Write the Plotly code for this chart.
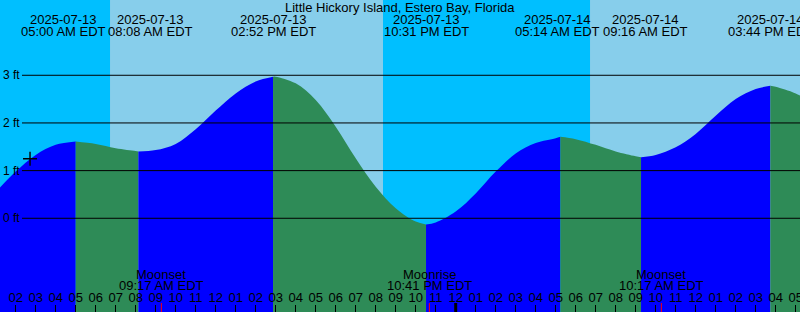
import plotly.graph_objects as go
from datetime import datetime

# ---------------- data ----------------
tide_times = [
    "2025-07-13 01:00", "2025-07-13 02:00", "2025-07-13 03:00", "2025-07-13 04:00",
    "2025-07-13 05:00", "2025-07-13 06:00", "2025-07-13 07:00", "2025-07-13 08:00",
    "2025-07-13 08:08", "2025-07-13 09:00", "2025-07-13 10:00", "2025-07-13 11:00",
    "2025-07-13 12:00", "2025-07-13 13:00", "2025-07-13 14:00", "2025-07-13 14:52",
    "2025-07-13 15:00", "2025-07-13 16:00", "2025-07-13 17:00", "2025-07-13 18:00",
    "2025-07-13 19:00", "2025-07-13 20:00", "2025-07-13 21:00", "2025-07-13 22:00",
    "2025-07-13 22:31", "2025-07-13 23:00", "2025-07-14 00:00", "2025-07-14 01:00",
    "2025-07-14 02:00", "2025-07-14 03:00", "2025-07-14 04:00", "2025-07-14 05:00",
    "2025-07-14 05:14", "2025-07-14 06:00", "2025-07-14 07:00", "2025-07-14 08:00",
    "2025-07-14 09:00", "2025-07-14 09:16", "2025-07-14 10:00", "2025-07-14 11:00",
    "2025-07-14 12:00", "2025-07-14 13:00", "2025-07-14 14:00", "2025-07-14 15:00",
    "2025-07-14 15:44", "2025-07-14 16:00", "2025-07-14 17:00", "2025-07-14 18:00",
]
tide_heights = [
    0.55, 0.98, 1.33, 1.54,
    1.61, 1.56, 1.47, 1.41,
    1.40, 1.43, 1.56, 1.87,
    2.26, 2.62, 2.87, 2.97,
    2.97, 2.83, 2.48, 1.92,
    1.26, 0.66, 0.21, -0.07,
    -0.13, -0.09, 0.14, 0.52,
    0.98, 1.36, 1.58, 1.68,
    1.71, 1.66, 1.54, 1.40,
    1.30, 1.28, 1.33, 1.49,
    1.77, 2.15, 2.50, 2.71,
    2.78, 2.76, 2.62, 2.40,
]

extreme_times = ["2025-07-13 05:00", "2025-07-13 08:08", "2025-07-13 14:52", "2025-07-13 22:31",
                 "2025-07-14 05:14", "2025-07-14 09:16", "2025-07-14 15:44"]
extreme_dates = ["2025-07-13", "2025-07-13", "2025-07-13", "2025-07-13",
                 "2025-07-14", "2025-07-14", "2025-07-14"]
extreme_labels = ["05:00 AM EDT", "08:08 AM EDT", "02:52 PM EDT", "10:31 PM EDT",
                  "05:14 AM EDT", "09:16 AM EDT", "03:44 PM EDT"]

sun_times = ["2025-07-13 06:43", "2025-07-13 20:22", "2025-07-14 06:43"]  # rise, set, rise

moon_times = ["2025-07-13 09:17", "2025-07-13 22:41", "2025-07-14 10:17"]
moon_events = ["Moonset", "Moonrise", "Moonset"]
moon_labels = ["09:17 AM EDT", "10:41 PM EDT", "10:17 AM EDT"]

midnight = "2025-07-14 00:00"
now_time = "2025-07-13 02:43"
now_height = 1.25

grid_levels = [0, 1, 2, 3]
grid_labels = ["0 ft", "1 ft", "2 ft", "3 ft"]

title = "Little Hickory Island, Estero Bay, Florida"

# ---------------- styling ----------------
NIGHT = "#00BFFF"
DAY = "#87CEEB"
RISE = "#0000FF"
FALL = "#2E8B57"
FONT = "Liberation Sans"
W, H = 800, 312
X_RANGE = ["2025-07-13 01:12:54", "2025-07-14 17:12:54"]
Y_MIN, Y_MAX = -1.966, 4.579


def dt(s):
    return datetime.strptime(s, "%Y-%m-%d %H:%M")


fig = go.Figure()

# water fill, one segment per rising / falling interval
bounds = [tide_times[0]] + extreme_times + [tide_times[-1]]
for a, b in zip(bounds[:-1], bounds[1:]):
    seg = [(t, h) for t, h in zip(tide_times, tide_heights) if dt(a) <= dt(t) <= dt(b)]
    xs = [p[0] for p in seg]
    ys = [p[1] for p in seg]
    color = RISE if ys[-1] > ys[0] else FALL
    fig.add_trace(go.Scatter(x=[xs[0], xs[-1]], y=[Y_MIN, Y_MIN], mode="lines",
                             line=dict(width=0), hoverinfo="skip", showlegend=False))
    fig.add_trace(go.Scatter(x=xs, y=ys, mode="lines", line=dict(width=0, shape="spline", smoothing=1.0),
                             fill="tonexty", fillcolor=color, hoverinfo="skip", showlegend=False))

# current time marker
fig.add_trace(go.Scatter(x=[now_time], y=[now_height], mode="markers",
                         marker=dict(symbol="cross-thin", size=10, line=dict(width=1.4, color="black")),
                         hoverinfo="skip", showlegend=False))

shapes = []
# day / night background
edges = [X_RANGE[0]] + sun_times + [X_RANGE[1]]
for i, (a, b) in enumerate(zip(edges[:-1], edges[1:])):
    shapes.append(dict(type="rect", xref="x", yref="paper", x0=a, x1=b, y0=0, y1=1,
                       fillcolor=NIGHT if i % 2 == 0 else DAY, line=dict(width=0), layer="below"))
# grid lines
for g in grid_levels:
    shapes.append(dict(type="line", xref="paper", yref="y", x0=22 / W, x1=1, y0=g, y1=g,
                       line=dict(color="black", width=1), layer="above"))
# midnight tick
shapes.append(dict(type="line", xref="x", yref="paper", x0=midnight, x1=midnight, y0=0, y1=9 / H,
                   line=dict(color="black", width=3), layer="above"))
# moon ticks
for t in moon_times:
    shapes.append(dict(type="line", xref="x", yref="paper", x0=t, x1=t, y0=0, y1=9 / H,
                       line=dict(color="red", width=1), layer="above"))

annotations = []
font = dict(family=FONT, size=13, color="black")
annotations.append(dict(text=title, xref="paper", yref="paper", x=0.5, y=1 - 7.5 / H,
                        showarrow=False, font=font, xanchor="center", yanchor="middle"))
shifts = [-12.5, 12.5, 0, 0, -2.5, 4, 0]
for t, d, lab, s in zip(extreme_times, extreme_dates, extreme_labels, shifts):
    annotations.append(dict(text=d, xref="x", yref="paper", x=t, y=1 - 19.5 / H, xshift=s,
                            showarrow=False, font=font, xanchor="center", yanchor="middle"))
    annotations.append(dict(text=lab, xref="x", yref="paper", x=t, y=1 - 31.3 / H, xshift=s,
                            showarrow=False, font=font, xanchor="center", yanchor="middle"))
for t, ev, lab in zip(moon_times, moon_events, moon_labels):
    annotations.append(dict(text=ev, xref="x", yref="paper", x=t, y=1 - 274 / H,
                            showarrow=False, font=font, xanchor="center", yanchor="middle"))
    annotations.append(dict(text=lab, xref="x", yref="paper", x=t, y=1 - 285.3 / H,
                            showarrow=False, font=font, xanchor="center", yanchor="middle"))
# level labels
for g, lab in zip(grid_levels, grid_labels):
    annotations.append(dict(text=lab, xref="paper", yref="y", x=2 / W, y=g,
                            showarrow=False, font=dict(family=FONT, size=12, color="black"),
                            xanchor="left", yanchor="middle", borderpad=0))

fig.update_layout(
    width=W, height=H,
    margin=dict(l=0, r=0, t=0, b=0, pad=0, autoexpand=False),
    paper_bgcolor=NIGHT, plot_bgcolor=NIGHT,
    showlegend=False,
    shapes=shapes,
    annotations=annotations,
    xaxis=dict(type="date", range=X_RANGE, showgrid=False, zeroline=False, showline=False,
               ticks="inside", ticklen=7, tickwidth=1, tickcolor="black",
               dtick=3600000, tickformat="%I", ticklabelposition="inside",
               ticklabeloverflow="allow", automargin=False,
               tickfont=dict(family=FONT, size=13, color="black"), fixedrange=True),
    yaxis=dict(range=[Y_MIN, Y_MAX], visible=False, fixedrange=True, automargin=False),
)

fig.write_html("out.html")
